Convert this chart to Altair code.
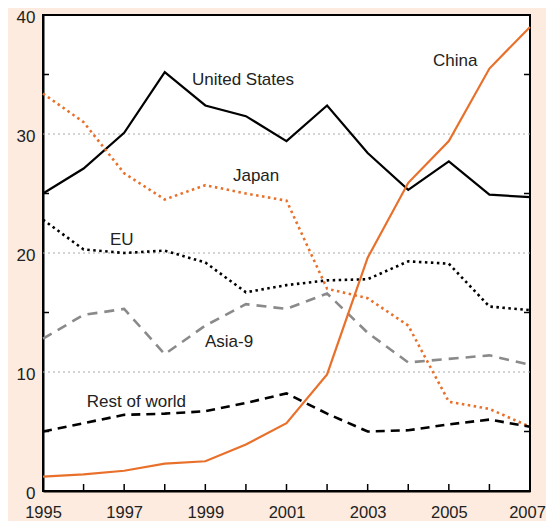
import altair as alt
import pandas as pd

years = list(range(1995, 2008))
us = [25.0, 27.1, 30.1, 35.2, 32.4, 31.5, 29.4, 32.4, 28.4, 25.3, 27.7, 24.9, 24.7]
japan = [33.4, 31.0, 26.7, 24.5, 25.7, 25.0, 24.4, 17.0, 16.2, 13.9, 7.5, 6.9, 5.4]
eu = [22.8, 20.3, 20.0, 20.2, 19.2, 16.7, 17.3, 17.7, 17.8, 19.3, 19.1, 15.5, 15.2]
asia9 = [12.8, 14.8, 15.3, 11.5, 13.9, 15.7, 15.3, 16.6, 13.3, 10.8, 11.1, 11.4, 10.6]
rest = [5.0, 5.7, 6.4, 6.5, 6.7, 7.4, 8.2, 6.5, 5.0, 5.1, 5.6, 6.0, 5.4]
china = [1.2, 1.4, 1.7, 2.3, 2.5, 3.9, 5.7, 9.8, 19.6, 25.9, 29.4, 35.5, 39.0]

series_names = ["United States", "Japan", "EU", "Asia-9", "Rest of world", "China"]
series_values = [us, japan, eu, asia9, rest, china]

label_text = ["United States", "Japan", "EU", "Asia-9", "Rest of world", "China"]
label_year = [1998.67, 1999.68, 1996.65, 1998.99, 1996.08, 2004.61]
label_value = [34.5, 26.5, 21.1, 12.56, 7.52, 36.1]

y_labels = [0, 10, 20, 30, 40]
y_minor = [5, 15, 25, 35]
grid_vals = [10, 20, 30]
x_labels = [1995, 1997, 1999, 2001, 2003, 2005, 2007]

W, H = 487, 476
ORANGE = "#e8702a"
styles = {
    "United States": dict(color="black", strokeWidth=2.2),
    "Japan": dict(color=ORANGE, strokeWidth=2.6, strokeDash=[2.5, 3.5]),
    "EU": dict(color="black", strokeWidth=2.6, strokeDash=[2.5, 3.5]),
    "Asia-9": dict(color="#8a8a8a", strokeWidth=2.6, strokeDash=[10, 7]),
    "Rest of world": dict(color="black", strokeWidth=2.6, strokeDash=[9, 6]),
    "China": dict(color=ORANGE, strokeWidth=2.2),
}

xscale = alt.Scale(domain=[1995, 2007], nice=False, zero=False)
yscale = alt.Scale(domain=[0, 40], nice=False)

xax = alt.Axis(values=x_labels, format="d", ticks=False, grid=False, labelPadding=13,
               domainColor="black", domainWidth=2, labelFontSize=16.5, labelColor="#222",
               labelFont="Liberation Sans", labelFlush=False,
               labelOffset={"condition": {"test": "datum.value == 2007", "value": -3}, "value": 0})
yax = alt.Axis(values=y_labels, ticks=False, grid=False, labelPadding=8, labelOffset=2,
               domainColor="black", domainWidth=2, labelFontSize=17, labelColor="#222",
               labelFont="Liberation Sans", labelFlush=False)

grid = alt.Chart(pd.DataFrame({"v": grid_vals})).mark_rule(
    color="#aaaaaa", strokeWidth=1, strokeDash=[2, 3]
).encode(y=alt.Y("v:Q", scale=yscale, axis=yax, title=None))

layers = [grid]
for name, vals in zip(series_names, series_values):
    df = pd.DataFrame({"year": years, "value": vals})
    layers.append(
        alt.Chart(df).mark_line(**styles[name]).encode(
            x=alt.X("year:Q", scale=xscale, axis=xax, title=None),
            y=alt.Y("value:Q", scale=yscale, title=None),
        )
    )

ytick_df = pd.DataFrame({"v": y_minor})
layers.append(alt.Chart(ytick_df).mark_rule(color="black", strokeWidth=1.5).encode(
    y=alt.Y("v:Q", scale=yscale), x=alt.value(0), x2=alt.value(6)))
layers.append(alt.Chart(ytick_df).mark_rule(color="black", strokeWidth=1.5).encode(
    y=alt.Y("v:Q", scale=yscale), x=alt.value(W - 6), x2=alt.value(W)))

xtick_df = pd.DataFrame({"yr": years[1:-1]})
layers.append(alt.Chart(xtick_df).mark_rule(color="black", strokeWidth=1.5).encode(
    x=alt.X("yr:Q", scale=xscale), y=alt.value(H), y2=alt.value(H - 7)))

lab_df = pd.DataFrame({"t": label_text, "yr": label_year, "v": label_value})
layers.append(alt.Chart(lab_df).mark_text(
    align="left", baseline="middle", fontSize=17, font="Liberation Sans", color="#222"
).encode(x=alt.X("yr:Q", scale=xscale), y=alt.Y("v:Q", scale=yscale), text="t:N"))

chart = alt.layer(*layers).properties(
    width=W, height=H,
    autosize=alt.AutoSizeParams(type="none"),
    padding={"left": 35, "top": 7, "right": 16, "bottom": 30},
    background="#fcebde",
).configure_view(fill="white", stroke="black", strokeWidth=2)

chart.save("out.html", embed_options={"renderer": "svg", "actions": False})
